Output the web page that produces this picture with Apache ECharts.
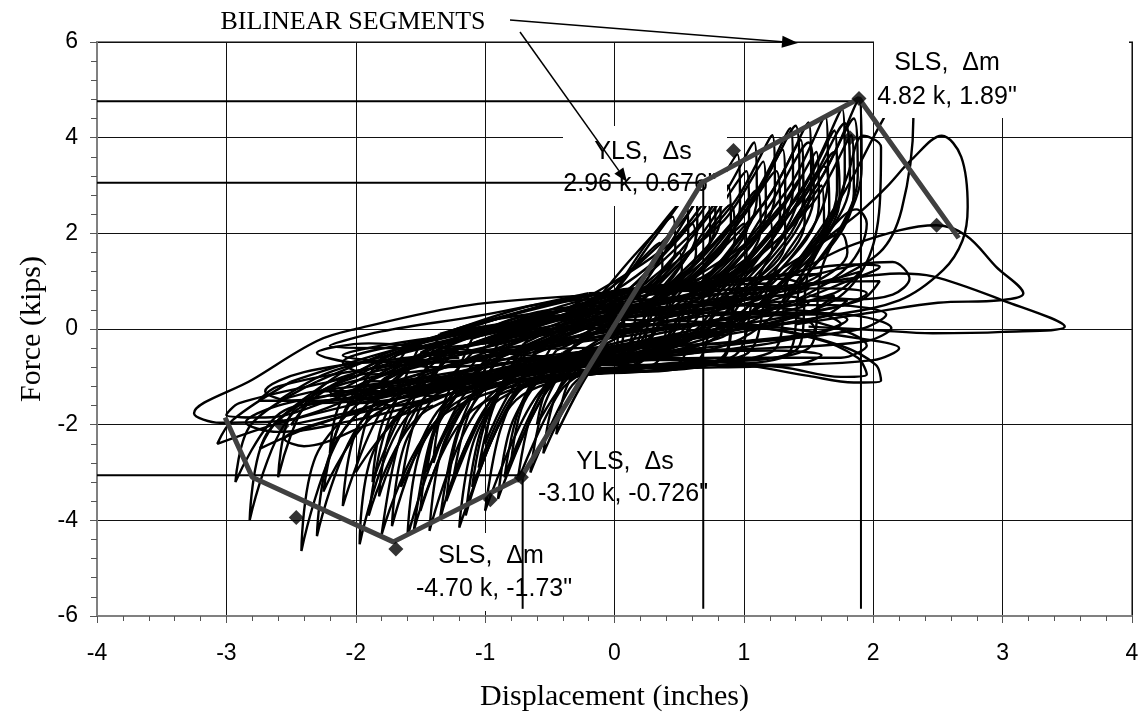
<!DOCTYPE html>
<html>
<head>
<meta charset="utf-8">
<script src="https://cdn.jsdelivr.net/npm/echarts@6/dist/echarts.min.js"></script>
<style>html,body{margin:0;padding:0;background:#fff}#c{width:1138px;height:717px}</style>
</head>
<body>
<div id="c"></div>
<script>
// ---------------- data ----------------
const xRange = [-4, 4];
const yRange = [-6, 6];

// bilinear envelope (thick grey polyline)
const bilinearEnvelope = [[-3.01,-1.85],[-2.80,-3.10],[-1.71,-4.45],[-0.72,-3.10],[0.675,3.06],[1.89,4.82],[2.66,1.90]];
// diamond markers (cycle peaks)
const peakMarkers = [[-2.57,-2.03],[-2.46,-3.94],[-1.69,-4.60],[-0.96,-3.57],[-0.72,-3.10],[0.92,3.73],[1.82,4.00],[1.89,4.82],[2.49,2.17]];
// limit-state reference lines
const yieldPositive = [0.686, 3.06];
const peakPositive = [1.905, 4.76];
const yieldNegative = [-0.71, -3.06];
const refLineBottom = -5.85;

// hysteresis record, spiky cycles (band -> + leaf -> band -> - spike)
const cyclesSpiky = [
 [[-0.6,-0.3],[0.0,0.2],[0.5,0.55],[1.2,2.81],[1.5,4.32],[1.52,3.02],[1.05,0.86],[0.45,-0.4],[-0.57,-0.75],[-1.08,-1.77],[-1.43,-4.22],[-1.31,-2.32],[-0.88,-0.6]],
 [[-0.88,-0.6],[-0.3,0.1],[0.08,0.45],[0.78,2.54],[1.08,3.9],[1.1,2.73],[0.63,0.78],[0.3,-0.55],[-0.35,-0.85],[-0.65,-1.6],[-1.0,-3.8],[-0.88,-2.09],[-0.6,-0.4]],
 [[-0.6,-0.4],[0.1,0.3],[0.89,0.75],[1.59,3.12],[1.89,4.8],[1.91,3.36],[1.44,0.96],[0.9,-0.3],[-0.2,-0.7],[-1.0,-1.0],[-1.62,-1.89],[-1.97,-4.5],[-1.85,-2.48],[-1.2,-0.4]],
 [[-1.2,-0.4],[-0.4,0.25],[-0.1,0.5],[0.32,1.95],[0.62,3.0],[0.64,2.1],[0.3,0.6],[0.1,-0.4],[-0.15,-0.8],[-0.35,-1.26],[-0.65,-3.0],[-0.55,-1.65],[-0.35,-0.6]],
 [[-0.35,-0.6],[0.2,0.1],[0.76,0.65],[1.46,2.99],[1.76,4.6],[1.78,3.22],[1.31,0.92],[0.8,0.0],[0.0,-0.6],[-0.8,-0.95],[-1.25,-1.83],[-1.6,-4.35],[-1.48,-2.39],[-1.0,-0.7]],
 [[-1.0,-0.7],[-0.3,0.05],[0.0,0.55],[0.65,2.37],[0.95,3.65],[0.97,2.56],[0.5,0.73],[0.2,-0.35],[-0.3,-0.8],[-0.57,-1.49],[-0.9,-3.55],[-0.79,-1.95],[-0.45,-0.45]],
 [[-0.45,-0.45],[0.05,0.2],[0.36,0.7],[1.06,2.73],[1.36,4.2],[1.38,2.94],[0.91,0.84],[0.55,-0.2],[-0.25,-0.75],[-0.6,-1.0],[-0.85,-1.74],[-1.2,-4.15],[-1.08,-2.28],[-0.7,-0.5]],
 [[-0.7,-0.5],[0.1,0.35],[0.63,0.8],[1.33,2.89],[1.63,4.45],[1.65,3.12],[1.18,0.89],[0.7,-0.1],[-0.1,-0.65],[-0.9,-1.05],[-1.37,-1.73],[-1.72,-4.12],[-1.6,-2.27],[-1.1,-0.5]],
 [[-1.1,-0.5],[-0.4,0.3],[-0.15,0.6],[0.5,2.18],[0.8,3.35],[0.82,2.35],[0.35,0.67],[0.15,-0.45],[-0.3,-0.85],[-0.5,-1.18],[-0.8,-2.8],[-0.7,-1.54],[-0.4,-0.5]],
 [[-0.4,-0.5],[0.0,0.15],[0.22,0.6],[0.92,2.63],[1.22,4.05],[1.24,2.84],[0.77,0.81],[0.45,-0.3],[-0.3,-0.8],[-0.7,-1.0],[-0.96,-1.51],[-1.3,-3.6],[-1.18,-1.98],[-0.8,-0.6]],
 [[-0.8,-0.6],[-0.3,0.1],[-0.2,0.4],[0.15,1.53],[0.45,2.35],[0.47,1.65],[0.1,0.47],[0.05,-0.35],[-0.1,-0.7],[-0.2,-0.92],[-0.45,-2.2],[-0.37,-1.21],[-0.2,-0.5]],
 [[-0.2,-0.5],[0.3,0.2],[0.83,0.9],[1.53,2.63],[1.83,4.05],[1.85,2.84],[1.38,0.81],[1.0,0.1],[0.0,-0.5],[-1.2,-1.2],[-1.92,-1.82],[-2.3,-4.33],[-2.16,-2.38],[-1.5,-0.6]],
 [[-1.5,-0.6],[-0.6,0.3],[0.3,0.6],[1.0,2.44],[1.3,3.75],[1.32,2.63],[0.85,0.75],[0.5,-0.25],[-0.5,-0.75],[-0.85,-1.1],[-1.16,-1.6],[-1.5,-3.8],[-1.38,-2.09],[-0.95,-0.5]],
 [[-0.95,-0.5],[-0.3,0.2],[-0.1,0.45],[0.25,1.79],[0.55,2.75],[0.57,1.93],[0.2,0.55],[0.1,-0.4],[-0.1,-0.75],[-0.27,-1.09],[-0.55,-2.6],[-0.46,-1.43],[-0.25,-0.45]],
 [[-0.25,-0.45],[0.1,0.25],[0.15,0.65],[0.85,2.28],[1.15,3.5],[1.17,2.45],[0.7,0.7],[0.4,-0.35],[-0.35,-0.85],[-0.55,-1.0],[-0.77,-1.39],[-1.1,-3.3],[-0.98,-1.82],[-0.65,-0.4]],
 [[-0.65,-0.4],[0.05,0.35],[0.44,0.75],[1.14,2.57],[1.44,3.95],[1.46,2.77],[0.99,0.79],[0.6,-0.2],[-0.3,-0.7],[-1.1,-1.05],[-1.48,-1.47],[-1.82,-3.5],[-1.7,-1.93],[-1.2,-0.4]],
 [[-1.2,-0.4],[-0.5,0.3],[-0.28,0.55],[0.42,1.76],[0.72,2.7],[0.74,1.89],[0.27,0.54],[0.15,-0.4],[-0.2,-0.85],[-0.43,-1.34],[-0.75,-3.2],[-0.64,-1.76],[-0.4,-0.55]],
 [[-0.4,-0.55],[0.0,0.2],[0.3,0.6],[0.72,2.15],[1.02,3.3],[1.04,2.31],[0.57,0.66],[0.35,-0.3],[-0.5,-0.8],[-1.2,-1.05],[-1.54,-1.34],[-1.87,-3.2],[-1.76,-1.76],[-1.3,-0.5]],
 [[-1.3,-0.5],[-0.4,0.3],[0.7,0.8],[1.4,2.7],[1.7,4.15],[1.72,2.9],[1.25,0.83],[0.8,-0.1],[0.0,-0.6],[-1.4,-1.3],[-2.05,-1.95],[-2.42,-4.64],[-2.29,-2.55],[-1.7,-0.9]],
 [[-1.7,-0.9],[-0.8,0.2],[-0.3,0.35],[0.1,1.17],[0.35,1.8],[0.37,1.26],[0.05,0.36],[0.0,-0.5],[-0.8,-1.0],[-1.4,-1.2],[-1.76,-1.55],[-2.1,-3.7],[-1.98,-2.04],[-1.5,-0.6]],
 [[-1.5,-0.6],[-0.6,0.35],[0.56,0.7],[1.26,2.4],[1.56,3.7],[1.58,2.59],[1.11,0.74],[0.7,-0.3],[-0.5,-0.8],[-1.8,-1.4],[-2.45,-1.68],[-2.82,-4.0],[-2.69,-2.2],[-2.2,-1.2]],
 [[-2.2,-1.2],[-1.4,-0.2],[-0.12,0.5],[0.58,1.95],[0.88,3.0],[0.9,2.1],[0.43,0.6],[0.2,-0.4],[-0.9,-1.0],[-1.8,-1.3],[-2.27,-1.3],[-2.6,-3.1],[-2.48,-1.7],[-2.0,-1.0]],
 [[-2.0,-1.0],[-1.1,0.1],[0.6,0.75],[1.3,1.95],[1.6,3.0],[1.62,2.1],[1.15,0.6],[0.8,-0.2],[-0.6,-0.9],[-2.0,-1.5],[-2.55,-1.7],[-2.93,-3.2],[-2.81,-2.0],[-2.3,-1.1]],
 [[-2.3,-1.1],[-1.3,-0.1],[0.3,0.6],[1.0,1.69],[1.3,2.6],[1.32,1.82],[0.85,0.52],[0.5,-0.35],[-0.6,-0.85],[-1.1,-1.18],[-1.4,-2.8],[-1.3,-1.54],[-0.9,-0.6]],
 [[-0.9,-0.6],[-0.2,0.2],[0.2,0.5],[0.7,1.43],[1.0,2.2],[1.02,1.54],[0.55,0.44],[0.3,-0.45],[-0.4,-0.8],[-0.72,-1.01],[-1.0,-2.4],[-0.9,-1.32],[-0.6,-0.5]],
 [[-0.6,-0.5],[0.1,0.3],[0.45,0.8],[1.15,2.08],[1.45,3.2],[1.47,2.24],[1.0,0.64],[0.7,-0.3],[-0.6,-0.9],[-1.5,-1.1],[-1.9,-1.09],[-2.2,-2.6],[-2.09,-1.43],[-1.6,-0.8]],
 [[-0.6,-0.5],[-0.2,0.6],[0.0,0.8],[0.35,1.5],[0.6,2.2],[0.63,1.6],[0.35,0.5],[0.2,-0.7],[-0.2,-0.85],[-0.35,-1.0],[-0.6,-2.0],[-0.52,-1.2],[-0.3,-0.3]],
 [[-0.3,-0.3],[0.1,0.7],[0.2,0.85],[0.48,2.0],[0.75,3.1],[0.78,2.2],[0.45,0.7],[0.3,-0.75],[-0.3,-0.95],[-0.55,-1.3],[-0.85,-3.1],[-0.74,-1.7],[-0.45,-0.2]],
 [[-0.45,-0.2],[0.0,0.6],[0.3,0.9],[0.65,1.8],[0.9,2.6],[0.93,1.9],[0.6,0.6],[0.5,-0.7],[-0.4,-1.0],[-0.75,-1.25],[-1.05,-2.9],[-0.93,-1.6],[-0.65,-0.1]],
 [[-0.65,-0.1],[0.2,0.75],[0.45,0.95],[0.85,2.0],[1.1,2.9],[1.13,2.1],[0.8,0.7],[0.6,-0.75],[-0.3,-1.0],[-0.8,-1.6],[-1.15,-3.9],[-1.03,-2.1],[-0.7,-0.3]],
 [[-0.7,-0.3],[0.2,0.8],[0.55,1.0],[0.98,2.3],[1.25,3.3],[1.28,2.4],[0.95,0.8],[0.8,-0.7],[-0.2,-0.95],[-0.9,-1.35],[-1.25,-3.2],[-1.13,-1.8],[-0.8,-0.1]],
 [[-0.8,-0.1],[0.3,0.75],[0.6,1.0],[1.1,2.8],[1.4,4.25],[1.43,3.0],[1.1,1.0],[0.9,-0.6],[-0.1,-0.9],[-0.95,-1.6],[-1.35,-4.0],[-1.22,-2.2],[-0.9,-0.3]],
 [[-0.9,-0.3],[0.2,0.85],[0.75,1.05],[1.2,2.6],[1.5,3.9],[1.54,2.8],[1.2,1.0],[1.0,-0.55],[0.0,-0.85],[-1.1,-1.7],[-1.55,-4.2],[-1.42,-2.3],[-1.1,-0.2]],
 [[-1.1,-0.2],[0.1,0.8],[0.85,1.1],[1.35,2.4],[1.62,3.4],[1.66,2.5],[1.35,1.1],[1.2,-0.5],[0.1,-0.8],[-1.2,-1.5],[-1.65,-3.3],[-1.54,-1.9],[-1.2,0.0]],
 [[-1.2,0.0],[0.0,0.8],[0.9,1.1],[1.48,2.9],[1.78,4.3],[1.82,3.1],[1.5,1.2],[1.4,-0.45],[0.2,-0.8],[-1.3,-1.75],[-1.8,-4.3],[-1.67,-2.4],[-1.35,-0.1]],
 [[-1.35,-0.1],[-0.2,0.7],[0.8,1.1],[1.42,2.6],[1.7,3.7],[1.74,2.7],[1.45,1.15],[1.3,-0.6],[0.0,-0.85],[-1.45,-1.7],[-1.9,-3.9],[-1.78,-2.2],[-1.5,-0.3]],
 [[-1.5,-0.3],[-0.3,0.65],[1.0,1.15],[1.56,3.0],[1.85,4.4],[1.88,3.2],[1.6,1.25],[1.5,-0.4],[0.3,-0.75],[-1.5,-1.55],[-2.0,-3.0],[-1.9,-1.8],[-1.6,-0.4]],
 [[-1.6,-0.4],[-0.4,0.6],[0.6,1.0],[1.0,1.7],[1.2,2.3],[1.22,1.7],[0.95,0.9],[0.8,-0.65],[-0.5,-1.0],[-1.8,-1.7],[-2.25,-3.4],[-2.13,-2.0],[-1.8,-0.6]],
 [[-1.8,-0.6],[-0.7,0.45],[0.1,0.75],[0.35,1.2],[0.5,1.6],[0.52,1.2],[0.3,0.6],[0.15,-0.75],[-0.6,-1.0],[-1.1,-1.4],[-1.45,-3.0],[-1.35,-1.8],[-1.0,-0.4]]
];

// hysteresis record, wide low-force cycles
const cyclesFlat = [
 [[-1.6,-0.8],[-0.6,0.1],[0.5,0.6],[1.5,0.95],[2.05,1.0],[1.9,0.6],[1.0,0.1],[0.0,-0.35],[-1.0,-0.9],[-2.0,-1.7],[-2.5,-2.0],[-2.3,-1.4],[-1.7,-0.5]],
 [[-1.7,-0.5],[-0.5,0.2],[0.8,0.5],[1.7,0.5],[2.1,0.3],[1.9,0.0],[1.0,-0.3],[0.0,-0.6],[-1.2,-1.1],[-2.5,-1.9],[-3.07,-2.4],[-2.95,-1.9],[-2.5,-1.1]],
 [[-2.5,-1.1],[-1.5,-0.3],[0.0,0.35],[1.2,0.3],[1.95,-0.35],[1.75,-0.6],[0.8,-0.6],[-0.2,-0.75],[-1.3,-1.2],[-2.3,-2.0],[-2.74,-2.5],[-2.6,-1.9],[-2.1,-0.9]],
 [[-2.0,-1.4],[-1.0,-0.55],[0.2,-0.1],[1.3,0.5],[1.8,1.0],[2.05,1.3],[1.85,1.35],[1.0,1.0],[0.0,0.75],[-1.12,0.5],[-2.0,0.0],[-2.3,-0.25],[-2.8,-1.06],[-3.25,-1.76],[-3.05,-1.96],[-2.6,-1.93],[-2.0,-1.4]],
 [[-2.0,-1.4],[-1.2,-0.4],[0.0,0.2],[1.2,0.55],[1.8,0.6],[1.6,0.25],[0.7,-0.1],[-0.4,-0.6],[-1.5,-1.2],[-2.0,-1.5],[-1.85,-1.0],[-1.3,-0.3]],
 [[-1.3,-0.3],[-0.3,0.2],[1.0,0.1],[1.9,-0.2],[2.2,-0.4],[2.0,-0.65],[1.0,-0.75],[0.0,-0.75],[-1.2,-1.1],[-2.4,-1.6],[-2.2,-1.1],[-1.4,-0.5]],
 [[-1.4,-0.5],[0.0,0.1],[1.2,0.0],[1.75,-0.35],[2.02,-0.75],[2.06,-1.08],[1.85,-1.12],[1.5,-0.98],[1.0,-0.75],[0.4,-0.6],[-0.5,-0.8],[-1.8,-1.3],[-2.2,-1.4],[-1.8,-0.8]],
 [[-1.8,-0.8],[-0.6,-0.1],[0.8,0.1],[1.55,-0.2],[1.88,-0.6],[1.95,-0.95],[1.75,-1.0],[1.3,-0.8],[0.6,-0.65],[-0.2,-0.65],[-1.0,-0.95],[-2.0,-1.2],[-1.5,-0.6]],
 [[-1.5,-0.6],[-0.4,0.1],[1.0,0.35],[1.8,0.3],[2.14,0.02],[1.95,-0.25],[1.2,-0.4],[0.2,-0.5],[-1.0,-0.9],[-2.3,-1.3],[-2.6,-1.5],[-2.2,-0.9],[-1.2,-0.2]],
 [[-1.2,-0.2],[-0.2,0.5],[0.8,0.9],[1.2,0.95],[1.0,0.7],[0.0,0.2],[-1.2,-0.5],[-2.2,-1.1],[-2.9,-1.55],[-3.0,-1.8],[-2.7,-1.85],[-2.1,-1.4],[-1.2,-0.7]],
 [[-1.2,-0.7],[0.0,0.0],[1.0,0.6],[1.7,1.05],[1.9,1.2],[1.7,0.75],[0.8,0.2],[-0.5,-0.3],[-1.6,-0.6],[-2.4,-0.9],[-2.7,-1.3],[-2.5,-1.5],[-1.9,-1.2],[-1.0,-0.8]],
 [[-1.0,-0.8],[0.0,-0.4],[0.9,-0.1],[1.5,0.15],[1.55,0.0],[0.8,-0.45],[-0.3,-0.6],[-1.3,-0.4],[-1.9,-0.3],[-2.3,-0.5],[-2.0,-0.7],[-1.2,-0.6]],
 [[-1.0,-0.4],[-0.5,0.4],[0.3,0.85],[1.2,1.1],[1.6,1.15],[1.4,0.9],[0.6,0.55],[-0.3,0.1],[-1.4,-0.7],[-1.8,-1.1],[-1.6,-1.3],[-1.0,-1.0]],
 [[-1.0,-1.0],[-0.2,-0.85],[0.8,-0.8],[1.4,-0.75],[1.6,-0.55],[1.2,-0.45],[0.3,-0.5],[-0.6,-0.6],[-1.5,-0.7],[-2.1,-0.55],[-1.7,-0.3],[-0.8,0.0]],
 [[-0.8,0.0],[0.0,0.7],[0.7,0.95],[1.3,1.05],[1.5,0.85],[1.0,0.6],[0.2,0.3],[-0.7,-0.2],[-1.6,-0.4],[-2.2,-0.35],[-1.8,-0.05],[-1.0,0.3],[-0.2,0.75]],
 [[-0.2,0.75],[0.6,0.8],[1.6,0.85],[1.95,0.75],[1.7,0.45],[0.9,0.2],[0.0,-0.1],[-1.0,-0.6],[-1.8,-0.8],[-2.6,-1.2],[-2.75,-1.5],[-2.3,-1.5],[-1.5,-1.1]],
 [[-1.5,-1.0],[-0.8,-0.3],[0.0,0.4],[0.8,0.8],[1.3,0.9],[1.1,0.6],[0.3,0.1],[-0.5,-0.4],[-1.2,-0.9],[-1.6,-1.3],[-1.4,-1.4],[-0.9,-1.0]],
 [[-0.9,-1.0],[-0.3,-0.5],[0.5,0.0],[1.2,0.4],[1.7,0.7],[1.5,0.35],[0.8,-0.1],[0.0,-0.45],[-0.8,-0.7],[-1.4,-0.8],[-1.7,-0.6],[-1.3,-0.3],[-0.6,0.1]],
 [[-0.6,0.1],[0.0,0.5],[0.6,0.7],[1.1,0.75],[0.9,0.5],[0.3,0.2],[-0.4,-0.2],[-1.0,-0.45],[-1.5,-0.5],[-1.3,-0.25],[-0.7,0.2],[0.0,0.65]],
 [[0.0,0.65],[0.7,0.55],[1.4,0.4],[1.8,0.2],[1.6,-0.05],[1.0,-0.25],[0.2,-0.4],[-0.5,-0.55],[-1.3,-1.0],[-1.9,-1.45],[-1.7,-1.6],[-1.1,-1.2],[-0.4,-0.6]],
 [[-0.4,-0.6],[0.3,-0.2],[1.0,0.2],[1.5,0.55],[1.3,0.7],[0.6,0.5],[-0.1,0.35],[-0.8,0.1],[-1.6,-0.3],[-2.1,-0.7],[-1.9,-0.95],[-1.3,-0.8],[-0.6,-0.3]],
 [[-0.6,-0.3],[0.1,0.0],[0.9,0.3],[1.6,0.3],[1.75,0.1],[1.3,-0.2],[0.5,-0.35],[-0.3,-0.4],[-1.1,-0.5],[-1.7,-0.9],[-2.2,-1.3],[-2.0,-1.55],[-1.3,-1.25]],
 [[-1.3,-1.25],[-0.6,-0.7],[0.2,-0.3],[0.8,0.0],[0.5,-0.25],[-0.3,-0.6],[-1.2,-1.0],[-2.0,-1.3],[-2.6,-1.6],[-2.85,-1.95],[-2.6,-2.15],[-2.0,-1.9],[-1.4,-1.5]],
 [[-1.4,-1.5],[-0.8,-0.9],[0.0,-0.45],[0.6,-0.2],[0.2,-0.55],[-0.6,-0.95],[-1.5,-1.5],[-2.2,-1.9],[-2.55,-2.3],[-2.4,-2.45],[-1.9,-2.0],[-1.4,-1.6]]
];

// hysteresis record, outer excursions on the positive side
const cyclesOuter = [
 [[1.3,0.6],[1.6,1.8],[1.8,3.2],[1.92,4.04],[2.06,3.8],[2.05,2.6],[1.95,1.4],[1.7,0.6],[1.2,0.1]],
 [[1.0,0.2],[1.6,1.8],[1.9,2.45],[2.1,2.96],[2.3,3.55],[2.53,4.04],[2.68,3.6],[2.73,2.55],[2.69,1.85],[2.54,1.23],[2.2,0.6],[1.6,0.25],[1.0,0.0]],
 [[1.2,0.8],[1.7,1.6],[2.2,2.06],[2.49,2.17],[2.72,1.95],[2.95,1.3],[3.16,0.74],[2.98,0.6],[2.5,0.55],[2.0,0.35],[1.4,0.1]],
 [[1.3,0.8],[1.8,1.05],[2.2,1.16],[2.46,1.1],[3.0,0.6],[3.48,0.05],[3.0,-0.06],[2.46,-0.09],[2.0,-0.02],[1.5,0.05]],
 [[1.5,1.1],[1.9,1.35],[2.15,1.4],[2.28,1.05],[2.15,0.72],[1.85,0.62],[1.5,0.7]],
 [[1.3,1.0],[1.74,2.7],[2.07,4.35],[2.2,4.9],[2.31,4.4],[2.22,2.5],[2.05,1.6],[1.6,0.9]],
 [[1.2,0.9],[1.6,1.9],[1.87,2.5],[1.95,2.2],[1.8,1.3],[1.4,0.6]],
 [[1.0,0.8],[1.5,1.6],[1.75,2.0],[1.8,1.6],[1.5,0.9],[1.1,0.5]]
];

// ---------------- chart ----------------
const chart = echarts.init(document.getElementById('c'), null, {renderer: 'canvas'});

const curveSeries = [...cyclesSpiky, ...cyclesFlat, ...cyclesOuter].map(loop => ({
  type: 'line', data: loop, smooth: 0.35, symbol: 'none', showSymbol: false, silent: true,
  lineStyle: {color: '#000', width: 2.4, opacity: 1}, z: 2, animation: false
}));

const refLines = [
  [[xRange[0], peakPositive[1]], [peakPositive[0], peakPositive[1]]],
  [[peakPositive[0], peakPositive[1]], [peakPositive[0], refLineBottom]],
  [[xRange[0], yieldPositive[1]], [yieldPositive[0], yieldPositive[1]]],
  [[yieldPositive[0], yieldPositive[1]], [yieldPositive[0], refLineBottom]],
  [[xRange[0], yieldNegative[1]], [yieldNegative[0], yieldNegative[1]]],
  [[yieldNegative[0], yieldNegative[1]], [yieldNegative[0], refLineBottom]]
].map(seg => ({type: 'line', data: seg, symbol: 'none', silent: true, lineStyle: {color: '#000', width: 2}, z: 5, animation: false}));

function arrow(x1, y1, x2, y2, len, half) {
  const a = Math.atan2(y2 - y1, x2 - x1);
  const bx = x2 - len * Math.cos(a), by = y2 - len * Math.sin(a);
  const nx = -Math.sin(a) * half, ny = Math.cos(a) * half;
  return [
    {type: 'line', shape: {x1: x1, y1: y1, x2: bx, y2: by}, style: {stroke: '#000', lineWidth: 1.5}, z: 8},
    {type: 'polygon', shape: {points: [[x2, y2], [bx + nx, by + ny], [bx - nx, by - ny]]}, style: {fill: '#000'}, z: 8}
  ];
}
const sansFont = '25px "Liberation Sans", Arial, sans-serif';
function txt(x, y, s, z) {
  return {type: 'text', x: x, y: y, z: z || 3,
    style: {text: s, font: sansFont, fill: '#000', textAlign: 'center', align: 'center', textVerticalAlign: 'middle', verticalAlign: 'middle'}};
}
function box(x, y, w, h) {
  return {type: 'rect', shape: {x: x, y: y, width: w, height: h}, style: {fill: '#fff'}, z: 3};
}

const option = {
  animation: false,
  backgroundColor: '#fff',
  grid: {left: 97, right: 6, top: 42, bottom: 101, show: true, borderColor: '#808080', borderWidth: 2, outerBoundsMode: 'none', containLabel: false},
  xAxis: {
    type: 'value', min: xRange[0], max: xRange[1], interval: 1,
    name: 'Displacement (inches)', nameLocation: 'middle', nameGap: 66,
    nameTextStyle: {fontFamily: '"Liberation Serif", "Times New Roman", serif', fontSize: 30, color: '#000'},
    axisLine: {show: true, onZero: false, lineStyle: {color: '#808080', width: 2}},
    axisTick: {show: true, length: 7, lineStyle: {color: '#555', width: 1}},
    minorTick: {show: true, splitNumber: 5, length: 5, lineStyle: {color: '#555', width: 1}},
    axisLabel: {margin: 26, fontFamily: '"Liberation Sans", Arial, sans-serif', fontSize: 23, color: '#000'},
    splitLine: {show: true, lineStyle: {color: '#111', width: 1}},
    minorSplitLine: {show: false}
  },
  yAxis: {
    type: 'value', min: yRange[0], max: yRange[1], interval: 2,
    name: 'Force (kips)', nameLocation: 'middle', nameGap: 50, nameRotate: 90,
    nameTextStyle: {fontFamily: '"Liberation Serif", "Times New Roman", serif', fontSize: 30, color: '#000'},
    axisLine: {show: true, onZero: false, lineStyle: {color: '#808080', width: 2}},
    axisTick: {show: true, length: 7, lineStyle: {color: '#555', width: 1}},
    minorTick: {show: true, splitNumber: 5, length: 6, lineStyle: {color: '#555', width: 1}},
    axisLabel: {margin: 19, fontFamily: '"Liberation Sans", Arial, sans-serif', fontSize: 23, color: '#000'},
    splitLine: {show: true, lineStyle: {color: '#111', width: 1}},
    minorSplitLine: {show: false}
  },
  series: [
    ...curveSeries,
    ...refLines,
    {type: 'line', data: bilinearEnvelope, symbol: 'none', silent: true, lineStyle: {color: '#404040', width: 5}, z: 6, animation: false},
    {type: 'scatter', data: peakMarkers, symbol: 'diamond', symbolSize: 15, itemStyle: {color: '#000'}, silent: true, z: 7, animation: false}
  ],
  graphic: [
    box(563, 126, 164, 80),
    txt(643, 152, 'YLS,  \u0394s'),
    txt(640, 184, '2.96 k, 0.676"'),
    box(874, 34, 255, 84),
    txt(947, 63, 'SLS,  \u0394m'),
    txt(947, 97, '4.82 k, 1.89"'),
    box(405, 533, 180, 78),
    txt(491, 556, 'SLS,  \u0394m'),
    txt(494, 589, '-4.70 k, -1.73"'),
    txt(625, 462, 'YLS,  \u0394s', 9),
    txt(623, 494, '-3.10 k, -0.726"', 9),
    {type: 'text', x: 353, y: 22, z: 9,
      style: {text: 'BILINEAR SEGMENTS', font: '26px "Liberation Serif", "Times New Roman", serif', fill: '#000',
        textAlign: 'center', align: 'center', textVerticalAlign: 'middle', verticalAlign: 'middle'}},
    ...arrow(510, 20, 798, 43, 16, 6),
    ...arrow(520, 32, 627, 182, 14, 5.5)
  ]
};
chart.setOption(option);
</script>
</body>
</html>
